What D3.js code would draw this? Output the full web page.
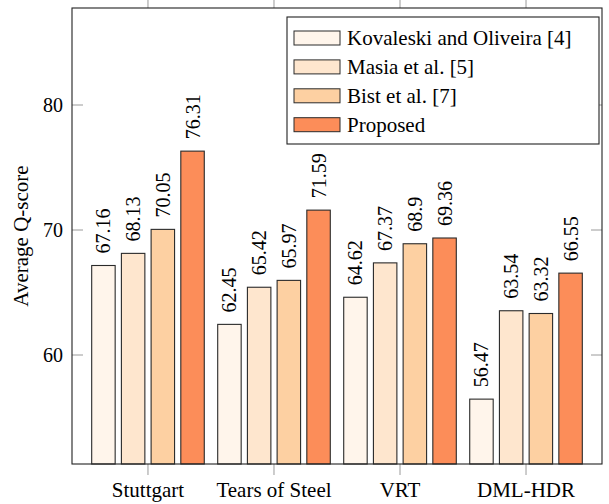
<!DOCTYPE html>
<html lang="en">
<head>
<meta charset="UTF-8">
<title>Average Q-score</title>
<script src="https://d3js.org/d3.v7.min.js"></script>
<style>
  body { margin: 0; background: #fff; }
  text { font-family: "Liberation Serif", "Times New Roman", serif; fill: #000; }
</style>
</head>
<body>
<svg id="chart" width="609" height="504"></svg>
<script>
// data
var datasets = ["Stuttgart", "Tears of Steel", "VRT", "DML-HDR"];
var methods = ["Kovaleski and Oliveira [4]", "Masia et al. [5]", "Bist et al. [7]", "Proposed"];
var kovaleski = [67.16, 62.45, 64.62, 56.47];
var masia = [68.13, 65.42, 67.37, 63.54];
var bist = [70.05, 65.97, 68.9, 63.32];
var proposed = [76.31, 71.59, 69.36, 66.55];
var yTicks = [60, 70, 80];
var colors = ["#fff5eb", "#fee6ce", "#fdd0a2", "#fc8d59"];

var series = [kovaleski, masia, bist, proposed];

var svg = d3.select("#chart");

// plot frame (note: "top" is reserved on window, so use plot* names)
var plotL = 72, plotR = 602, plotT = 8, plotB = 464;

var x0 = d3.scaleBand()
    .domain(datasets)
    .range([plotL, plotR])
    .paddingInner(0)
    .paddingOuter(0.103);

var x1 = d3.scaleBand()
    .domain(d3.range(methods.length))
    .range([0, x0.bandwidth()])
    .paddingInner(0.21)
    .paddingOuter(0.226);

var y = d3.scaleLinear()
    .domain([51.28, 87.76])
    .range([plotB, plotT]);

// bars
var groups = svg.append("g")
  .selectAll("g")
  .data(datasets)
  .enter()
  .append("g")
    .attr("transform", function(d){ return "translate(" + x0(d) + ",0)" });

groups.selectAll("rect")
  .data(function(d, i){ return series.map(function(s, k){ return {k: k, v: s[i]} }) })
  .enter()
  .append("rect")
    .attr("x", function(d){ return x1(d.k) })
    .attr("y", function(d){ return y(d.v) })
    .attr("width", x1.bandwidth())
    .attr("height", function(d){ return plotB - y(d.v) })
    .attr("fill", function(d){ return colors[d.k] })
    .attr("stroke", "#2a2a2a")
    .attr("stroke-width", 1.1);

// value labels, rotated
groups.selectAll("text.val")
  .data(function(d, i){ return series.map(function(s, k){ return {k: k, v: s[i]} }) })
  .enter()
  .append("text")
    .attr("class", "val")
    .attr("transform", function(d){
      return "translate(" + (x1(d.k) + x1.bandwidth() / 2 + 7) + "," + (y(d.v) - 12) + ") rotate(-90)" })
    .style("font-size", "20px")
    .text(function(d){ return d.v });

// y ticks (inside, both sides)
var tickColor = "#9a9a9a";
yTicks.forEach(function(t){
  svg.append("line")
    .attr("x1", plotL).attr("x2", plotL + 11)
    .attr("y1", y(t)).attr("y2", y(t))
    .attr("stroke", tickColor);
  svg.append("line")
    .attr("x1", plotR - 11).attr("x2", plotR)
    .attr("y1", y(t)).attr("y2", y(t))
    .attr("stroke", tickColor);
  svg.append("text")
    .attr("x", plotL - 9)
    .attr("y", y(t) + 7)
    .attr("text-anchor", "end")
    .style("font-size", "20px")
    .text(t);
});

// x ticks (outside, top and bottom)
datasets.forEach(function(d){
  var cx = x0(d) + x0.bandwidth() / 2;
  svg.append("line")
    .attr("x1", cx).attr("x2", cx)
    .attr("y1", plotB).attr("y2", plotB + 11)
    .attr("stroke", tickColor);
  svg.append("line")
    .attr("x1", cx).attr("x2", cx)
    .attr("y1", plotT - 11).attr("y2", plotT)
    .attr("stroke", tickColor);
  svg.append("text")
    .attr("x", cx)
    .attr("y", 497)
    .attr("text-anchor", "middle")
    .style("font-size", "21px")
    .text(d);
});

// frame
svg.append("rect")
  .attr("x", plotL).attr("y", plotT)
  .attr("width", plotR - plotL).attr("height", plotB - plotT)
  .attr("fill", "none")
  .attr("stroke", "#222")
  .attr("stroke-width", 1.1);

// axis title
svg.append("text")
  .attr("transform", "translate(28," + ((plotT + plotB) / 2) + ") rotate(-90)")
  .attr("text-anchor", "middle")
  .style("font-size", "21px")
  .text("Average Q-score");

// legend
var lg = svg.append("g").attr("transform", "translate(287,17)");
lg.append("rect")
  .attr("width", 312).attr("height", 127)
  .attr("fill", "#fff")
  .attr("stroke", "#222")
  .attr("stroke-width", 1.1);
methods.forEach(function(m, i){
  var cy = 21 + i * 28.9;
  lg.append("rect")
    .attr("x", 7).attr("y", cy - 7)
    .attr("width", 46).attr("height", 14)
    .attr("fill", colors[i])
    .attr("stroke", "#2a2a2a");
  lg.append("text")
    .attr("x", 60).attr("y", cy + 7)
    .style("font-size", "21px")
    .text(m);
});
</script>
</body>
</html>
